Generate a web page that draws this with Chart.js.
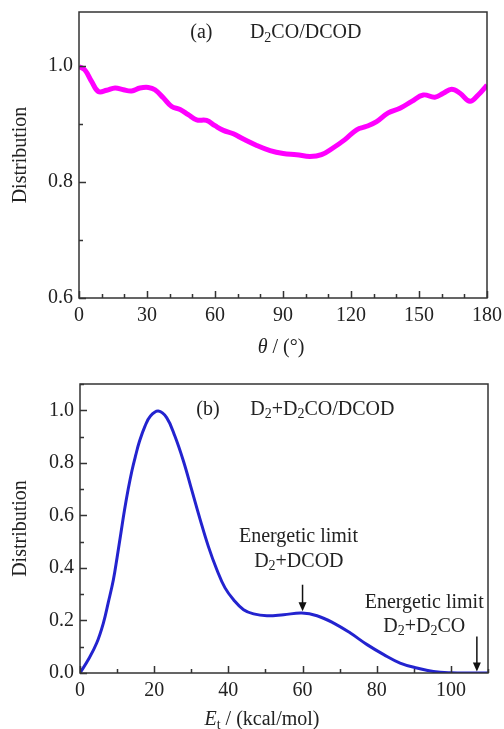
<!DOCTYPE html>
<html>
<head>
<meta charset="utf-8">
<script src="https://cdn.jsdelivr.net/npm/chart.js@4.4.1/dist/chart.umd.min.js"></script>
<style>
  html, body { margin: 0; padding: 0; background: #fff; }
  #wrap { position: relative; width: 504px; height: 729px; }
  canvas { position: absolute; left: 0; }
  #chartA { top: 0; }
  #chartB { top: 360px; }
</style>
</head>
<body>
<div id="wrap">
  <canvas id="chartA" width="504" height="360"></canvas>
  <canvas id="chartB" width="504" height="369"></canvas>
</div>
<script>
// (a) angular distribution D2CO/DCOD
const thetaDeg = [0, 2.6, 5.6, 8.5, 12.2, 15.9, 19.6, 23.2, 26.9, 30.6, 33.5, 37.2, 40.9, 44.6, 48.2, 51.9,
  56.3, 60, 63.7, 68.1, 72.5, 78.4, 84.3, 90.1, 96, 101.9, 107, 112.2, 117.3, 122.5, 126.9, 131.3,
  136.4, 141.6, 146.8, 151.9, 157, 160.7, 164.4, 168.1, 172.5, 176.1, 180];
const distA = [0.999, 0.993, 0.973, 0.956, 0.958, 0.962, 0.959, 0.957, 0.962, 0.963, 0.959, 0.945, 0.930, 0.925, 0.916, 0.907,
  0.906, 0.897, 0.889, 0.883, 0.874, 0.863, 0.854, 0.849, 0.847, 0.844, 0.847, 0.859, 0.873, 0.890, 0.896, 0.904,
  0.919, 0.927, 0.939, 0.950, 0.946, 0.953, 0.960, 0.953, 0.939, 0.950, 0.967];
const xTicksA = [0, 30, 60, 90, 120, 150, 180];
const yTicksA = [0.6, 0.8, 1.0];

// (b) translational energy distribution D2+D2CO/DCOD
const energy = [0, 2.25, 4.5, 6.3, 7.6, 9, 10, 11, 12, 13, 14, 15, 16, 17.5, 19, 21.1, 23.4, 25.6, 27.9, 30.1,
  32.4, 34.6, 36.9, 39.1, 41.4, 44.1, 46.8, 50.4, 54.9, 59.8, 63.9, 68.4, 72.9, 77.4, 81.9, 86.3, 90.8, 95.3, 100, 105, 110];
const distB = [0, 0.051, 0.114, 0.19, 0.267, 0.355, 0.44, 0.53, 0.62, 0.70, 0.77, 0.828, 0.88, 0.939, 0.978, 0.997, 0.971, 0.901, 0.806, 0.698,
  0.584, 0.482, 0.393, 0.324, 0.279, 0.241, 0.225, 0.218, 0.222, 0.228, 0.218, 0.19, 0.152, 0.108, 0.07, 0.038, 0.019, 0.006, 0.001, 0, 0];
const xTicksB = [0, 20, 40, 60, 80, 100];
const yTicksB = [0, 0.2, 0.4, 0.6, 0.8, 1.0];

const SERIF = '"Liberation Serif", "Times New Roman", serif';
const INK = '#222';

// 文字片段: [text, kind]  kind = '' | 'sub' | 'it'
function drawRich(ctx, segs, x, y, align) {
  const fontOf = k => k === 'sub' ? '14px ' + SERIF : (k === 'it' ? 'italic 20px ' + SERIF : '20px ' + SERIF);
  let w = 0;
  segs.forEach(s => { ctx.font = fontOf(s[1]); w += ctx.measureText(s[0]).width; });
  let cx = align === 'center' ? x - w / 2 : x;
  ctx.textAlign = 'left';
  ctx.textBaseline = 'middle';
  ctx.fillStyle = INK;
  segs.forEach(s => {
    ctx.font = fontOf(s[1]);
    ctx.fillText(s[0], cx, s[1] === 'sub' ? y + 5 : y);
    cx += ctx.measureText(s[0]).width;
  });
}

// 外框、朝內刻度、標註
const decoPlugin = {
  id: 'deco',
  afterDraw(chart, args, opts) {
    const { ctx, chartArea: a, scales: { x, y } } = chart;
    ctx.save();
    ctx.strokeStyle = '#333';
    ctx.lineWidth = 1.5;
    ctx.strokeRect(a.left, a.top, a.right - a.left, a.bottom - a.top);

    ctx.beginPath();
    for (let i = 0; ; i++) {
      const v = x.min + i * opts.xMinor;
      if (v > x.max + 1e-9) break;
      const px = Math.round(x.getPixelForValue(v)) + 0.5;
      const len = i % opts.xEvery === 0 ? 7 : 4;
      ctx.moveTo(px, a.bottom); ctx.lineTo(px, a.bottom - len);
    }
    for (let i = 0; ; i++) {
      const v = y.min + i * opts.yMinor;
      if (v > y.max + 1e-9) break;
      const py = Math.round(y.getPixelForValue(v)) + 0.5;
      const len = i % opts.yEvery === 0 ? 7 : 4;
      ctx.moveTo(a.left, py); ctx.lineTo(a.left + len, py);
    }
    ctx.stroke();

    (opts.labels || []).forEach(l => {
      drawRich(ctx, l.segs, x.getPixelForValue(l.x), y.getPixelForValue(l.y), l.align);
    });

    ctx.strokeStyle = '#111';
    ctx.fillStyle = '#111';
    ctx.lineWidth = 1.5;
    (opts.arrows || []).forEach(ar => {
      const px = x.getPixelForValue(ar.x);
      const p0 = y.getPixelForValue(ar.from);
      const p1 = y.getPixelForValue(ar.to);
      ctx.beginPath();
      ctx.moveTo(px, p0); ctx.lineTo(px, p1 - 6);
      ctx.stroke();
      ctx.beginPath();
      ctx.moveTo(px - 4, p1 - 9); ctx.lineTo(px + 4, p1 - 9); ctx.lineTo(px, p1);
      ctx.closePath();
      ctx.fill();
    });

    const t = opts.xTitle;
    drawRich(ctx, t.segs, (a.left + a.right) / 2 + t.dx, a.bottom + t.dy, 'center');
    ctx.restore();
  }
};

function makeChart(id, xs, ys, o) {
  return new Chart(document.getElementById(id), {
    type: 'line',
    data: {
      datasets: [{
        data: xs.map((v, i) => ({ x: v, y: ys[i] })),
        borderColor: o.color,
        borderWidth: o.width,
        pointRadius: 0,
        tension: 0.4,
        fill: false
      }]
    },
    options: {
      responsive: false,
      animation: false,
      devicePixelRatio: 1,
      layout: { padding: { top: o.top, right: o.right, left: 0, bottom: 0 } },
      plugins: { legend: { display: false }, tooltip: { enabled: false }, deco: o.deco },
      scales: {
        x: {
          type: 'linear', min: o.xMin, max: o.xMax,
          grid: { display: false, drawTicks: false }, border: { display: false },
          afterBuildTicks: s => { s.ticks = o.xTicks.map(v => ({ value: v })); },
          afterFit: s => { s.height = o.xH; s.paddingLeft = 0; s.paddingRight = 0; },
          ticks: { padding: 6, color: INK, font: { family: SERIF, size: 20 }, maxRotation: 0, autoSkip: false }
        },
        y: {
          type: 'linear', min: o.yMin, max: o.yMax,
          grid: { display: false, drawTicks: false }, border: { display: false },
          afterBuildTicks: s => { s.ticks = o.yTicks.map(v => ({ value: v })); },
          afterFit: s => { s.width = o.yW; s.paddingTop = 0; s.paddingBottom = 0; },
          ticks: { padding: 6, color: INK, font: { family: SERIF, size: 20 }, callback: v => v.toFixed(1) },
          title: { display: true, text: 'Distribution', color: INK, font: { family: SERIF, size: 20 }, padding: { top: 9, bottom: 0 } }
        }
      }
    },
    plugins: [decoPlugin]
  });
}

makeChart('chartA', thetaDeg, distA, {
  color: '#ff00ff', width: 5, top: 12, right: 17, xH: 62, yW: 79,
  xMin: 0, xMax: 180, yMin: 0.6, yMax: 1.093, xTicks: xTicksA, yTicks: yTicksA,
  deco: {
    xMinor: 10, xEvery: 3, yMinor: 0.1, yEvery: 2,
    labels: [
      { segs: [['(a)', '']], x: 54, y: 1.057, align: 'center' },
      { segs: [['D', ''], ['2', 'sub'], ['CO/DCOD', '']], x: 75.4, y: 1.057, align: 'left' }
    ],
    xTitle: { segs: [['θ', 'it'], [' / (°)', '']], dx: -2, dy: 50 }
  }
});

makeChart('chartB', energy, distB, {
  color: '#2323cf', width: 3, top: 24, right: 16, xH: 56, yW: 80,
  xMin: 0, xMax: 110, yMin: 0, yMax: 1.1, xTicks: xTicksB, yTicks: yTicksB,
  deco: {
    xMinor: 10, xEvery: 2, yMinor: 0.1, yEvery: 2,
    labels: [
      { segs: [['(b)', '']], x: 34.5, y: 1.003, align: 'center' },
      { segs: [['D', ''], ['2', 'sub'], ['+D', ''], ['2', 'sub'], ['CO/DCOD', '']], x: 45.9, y: 1.003, align: 'left' },
      { segs: [['Energetic limit', '']], x: 58.9, y: 0.52, align: 'center' },
      { segs: [['D', ''], ['2', 'sub'], ['+DCOD', '']], x: 59, y: 0.425, align: 'center' },
      { segs: [['Energetic limit', '']], x: 92.8, y: 0.267, align: 'center' },
      { segs: [['D', ''], ['2', 'sub'], ['+D', ''], ['2', 'sub'], ['CO', '']], x: 92.8, y: 0.176, align: 'center' }
    ],
    arrows: [
      { x: 60, from: 0.336, to: 0.235 },
      { x: 107, from: 0.139, to: 0.006 }
    ],
    xTitle: { segs: [['E', 'it'], ['t', 'sub'], [' / (kcal/mol)', '']], dx: -22, dy: 47 }
  }
});
</script>
</body>
</html>
